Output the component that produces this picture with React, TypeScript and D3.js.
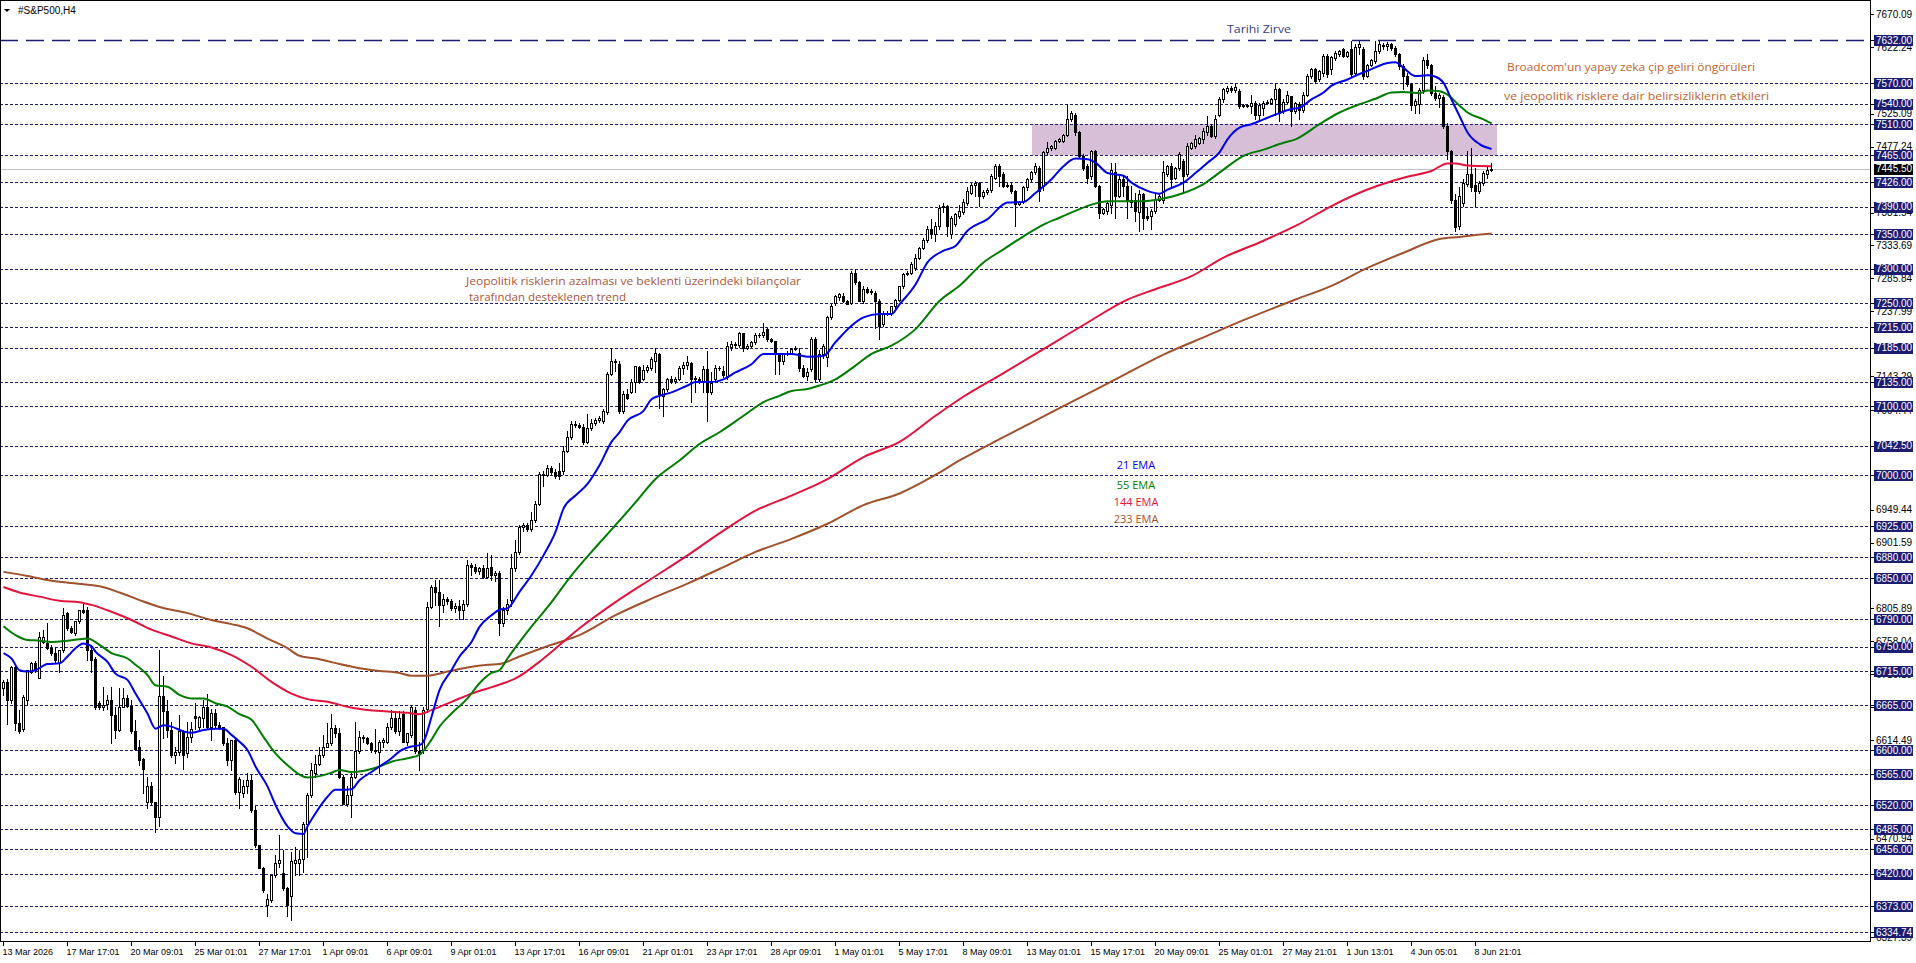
import React from 'react';
import * as d3 from 'd3';

const W = 1916;
const H = 963;
const PLOT_R = 1870;
const PLOT_B = 941;

// [open, high, low, close] per H4 bar
const candles: [number, number, number, number][] = [
[6690,6702,6680,6699],[6699,6703,6638,6672],[6672,6722,6668,6721],[6721,6724,6629,6639],[6639,6658,6624,6627],
[6630,6680,6628,6677],[6673,6716,6665,6716],[6714,6728,6712,6726],[6726,6729,6713,6716],[6704,6772,6704,6765],
[6757,6775,6755,6765],[6755,6784,6747,6748],[6748,6752,6738,6741],[6741,6750,6726,6731],[6726,6745,6714,6745],
[6745,6806,6742,6796],[6799,6801,6775,6777],[6777,6780,6770,6771],[6770,6788,6767,6787],[6787,6804,6784,6804],
[6803,6813,6799,6801],[6803,6808,6731,6745],[6745,6748,6714,6731],[6733,6735,6660,6663],[6668,6671,6660,6663],
[6663,6692,6658,6666],[6667,6680,6660,6672],[6672,6692,6610,6651],[6651,6663,6617,6629],[6629,6690,6628,6663],
[6663,6690,6662,6675],[6675,6680,6662,6664],[6664,6673,6624,6627],[6627,6644,6600,6602],[6604,6614,6578,6586],
[6587,6588,6537,6573],[6525,6561,6515,6547],[6547,6554,6522,6525],[6524,6525,6481,6503],[6503,6745,6489,6678],
[6678,6707,6617,6656],[6656,6673,6619,6629],[6629,6640,6590,6593],[6593,6605,6581,6597],[6597,6651,6593,6627],
[6627,6629,6573,6593],[6595,6641,6590,6619],[6619,6640,6612,6630],[6650,6668,6631,6646],[6634,6650,6630,6648],
[6646,6673,6634,6663],[6663,6682,6631,6634],[6634,6660,6615,6654],[6654,6660,6634,6637],[6637,6641,6630,6633],
[6633,6634,6607,6610],[6610,6617,6578,6585],[6585,6614,6571,6614],[6614,6617,6536,6539],[6539,6561,6515,6558],
[6537,6556,6532,6547],[6547,6566,6537,6556],[6556,6564,6510,6513],[6513,6518,6459,6462],[6462,6462,6428,6428],
[6428,6430,6394,6396],[6375,6391,6358,6383],[6382,6418,6379,6418],[6418,6447,6416,6435],[6435,6476,6430,6440],
[6421,6455,6396,6399],[6399,6401,6358,6375],[6387,6452,6353,6438],[6435,6459,6418,6440],[6436,6455,6418,6442],
[6442,6496,6423,6493],[6493,6537,6445,6535],[6535,6581,6532,6571],[6566,6593,6561,6580],[6580,6605,6578,6593],
[6593,6622,6590,6605],[6605,6639,6605,6610],[6610,6652,6607,6632],[6632,6636,6619,6625],[6625,6632,6559,6561],
[6561,6564,6522,6522],[6522,6547,6518,6534],[6534,6566,6503,6561],[6561,6641,6559,6598],[6598,6627,6595,6619],
[6619,6622,6612,6617],[6617,6619,6608,6610],[6610,6612,6597,6600],[6600,6631,6595,6599],[6597,6614,6566,6612],
[6612,6618,6605,6614],[6612,6639,6610,6634],[6634,6658,6631,6646],[6646,6656,6624,6627],[6627,6656,6622,6646],
[6653,6656,6611,6612],[6612,6625,6607,6624],[6622,6665,6619,6663],[6658,6663,6595,6598],[6598,6612,6571,6594],
[6600,6663,6596,6658],[6660,6815,6655,6808],[6808,6840,6806,6837],[6837,6847,6811,6830],[6830,6847,6781,6811],
[6811,6827,6801,6820],[6820,6823,6812,6817],[6817,6820,6803,6806],[6806,6814,6800,6810],[6810,6818,6791,6803],
[6803,6818,6790,6813],[6813,6876,6810,6869],[6869,6872,6855,6866],[6866,6870,6858,6860],[6860,6866,6856,6864],
[6864,6869,6850,6852],[6852,6886,6850,6864],[6866,6883,6847,6854],[6854,6861,6846,6857],[6857,6860,6767,6785],
[6785,6808,6780,6803],[6803,6820,6798,6813],[6818,6885,6810,6864],[6864,6906,6860,6888],[6888,6927,6885,6924],
[6924,6930,6918,6927],[6927,6930,6918,6921],[6921,6946,6919,6934],[6934,6962,6931,6958],[6958,7004,6956,7002],
[7002,7006,6984,7000],[7000,7014,6998,7010],[7010,7013,7002,7004],[7004,7008,6996,6999],[7006,7018,6994,6999],
[7005,7042,7002,7035],[7035,7064,7033,7055],[7055,7079,7052,7074],[7074,7079,7070,7072],[7072,7076,7068,7070],
[7070,7074,7045,7048],[7048,7088,7046,7068],[7068,7082,7066,7076],[7076,7083,7073,7080],[7080,7086,7077,7083],
[7079,7096,7076,7093],[7091,7149,7089,7147],[7147,7185,7145,7166],[7166,7168,7151,7164],[7162,7165,7090,7093],
[7093,7122,7090,7118],[7118,7125,7110,7112],[7120,7140,7119,7135],[7135,7159,7120,7159],[7157,7158,7133,7135],
[7140,7160,7138,7152],[7152,7160,7150,7157],[7156,7171,7153,7168],[7166,7184,7149,7178],[7176,7178,7098,7118],
[7115,7127,7086,7125],[7125,7141,7122,7140],[7140,7144,7134,7137],[7137,7142,7133,7140],[7140,7158,7138,7156],
[7156,7164,7147,7160],[7160,7173,7154,7164],[7163,7164,7106,7140],[7140,7144,7120,7141],[7140,7142,7134,7136],
[7136,7159,7120,7154],[7154,7180,7079,7120],[7120,7149,7118,7134],[7140,7160,7137,7156],[7156,7158,7152,7155],
[7151,7159,7142,7145],[7142,7193,7140,7188],[7186,7195,7182,7190],[7190,7193,7186,7189],[7189,7208,7186,7206],
[7206,7207,7180,7185],[7185,7190,7183,7188],[7188,7195,7186,7193],[7193,7207,7191,7204],[7204,7207,7201,7203],
[7203,7221,7201,7208],[7212,7214,7195,7197],[7197,7199,7193,7195],[7195,7195,7147,7176],[7176,7178,7147,7166],
[7166,7178,7161,7176],[7176,7180,7174,7178],[7178,7185,7176,7183],[7183,7187,7181,7185],[7178,7185,7151,7156],
[7156,7160,7142,7144],[7144,7156,7138,7150],[7154,7200,7151,7197],[7197,7200,7137,7140],[7140,7181,7137,7176],
[7176,7190,7170,7187],[7171,7231,7159,7229],[7229,7248,7226,7246],[7250,7261,7247,7260],[7258,7265,7255,7263],
[7260,7264,7251,7253],[7253,7254,7248,7249],[7250,7297,7248,7294],[7294,7300,7277,7280],[7280,7282,7253,7253],
[7253,7275,7250,7270],[7270,7273,7264,7266],[7266,7270,7263,7268],[7265,7268,7214,7253],[7253,7256,7197,7217],
[7220,7238,7217,7236],[7236,7238,7232,7235],[7235,7246,7233,7245],[7245,7256,7243,7255],[7255,7275,7253,7275],
[7274,7293,7272,7292],[7292,7296,7290,7294],[7294,7309,7292,7306],[7301,7321,7298,7316],[7316,7331,7314,7330],
[7330,7345,7328,7342],[7342,7362,7338,7358],[7358,7372,7345,7350],[7350,7368,7340,7362],[7362,7392,7358,7388],
[7390,7396,7383,7391],[7391,7392,7347,7362],[7350,7376,7345,7374],[7365,7381,7362,7379],[7377,7393,7374,7384],
[7382,7401,7379,7397],[7396,7418,7393,7413],[7410,7425,7408,7422],[7422,7427,7405,7425],[7424,7426,7391,7406],
[7406,7414,7403,7412],[7412,7417,7409,7415],[7415,7437,7412,7434],[7432,7452,7430,7449],[7449,7452,7420,7435],
[7437,7440,7418,7420],[7420,7424,7419,7422],[7422,7426,7410,7413],[7413,7415,7362,7394],[7394,7399,7393,7397],
[7398,7420,7396,7418],[7418,7432,7415,7430],[7430,7442,7427,7440],[7440,7454,7437,7449],[7447,7449,7398,7413],
[7420,7471,7415,7469],[7469,7484,7466,7476],[7476,7480,7473,7478],[7476,7487,7474,7486],[7486,7490,7484,7488],
[7486,7496,7484,7495],[7495,7539,7493,7517],[7517,7529,7515,7527],[7524,7527,7495,7498],[7498,7500,7461,7464],
[7464,7466,7444,7447],[7449,7452,7425,7432],[7435,7473,7430,7471],[7471,7473,7418,7420],[7420,7422,7374,7381],
[7381,7388,7380,7386],[7384,7398,7379,7396],[7393,7454,7381,7444],[7440,7454,7374,7406],[7406,7435,7404,7430],
[7430,7435,7405,7420],[7420,7434,7374,7400],[7400,7420,7391,7397],[7400,7410,7369,7384],[7382,7415,7355,7408],
[7408,7410,7357,7374],[7376,7388,7370,7374],[7377,7386,7357,7384],[7384,7410,7381,7401],[7400,7408,7398,7406],
[7400,7456,7396,7440],[7437,7451,7435,7449],[7449,7454,7420,7430],[7432,7448,7430,7447],[7447,7469,7444,7466],
[7456,7459,7410,7435],[7437,7483,7435,7478],[7476,7484,7474,7483],[7478,7495,7476,7488],[7483,7491,7481,7490],
[7488,7505,7483,7500],[7498,7522,7495,7507],[7507,7510,7492,7493],[7493,7524,7490,7517],[7524,7549,7522,7547],
[7546,7563,7543,7561],[7558,7565,7556,7563],[7563,7566,7557,7560],[7560,7570,7557,7564],[7558,7561,7534,7537],
[7537,7540,7535,7538],[7538,7540,7535,7536],[7536,7553,7527,7541],[7541,7544,7517,7524],[7524,7541,7517,7538],
[7534,7544,7524,7541],[7541,7545,7540,7543],[7541,7548,7539,7546],[7546,7570,7524,7561],[7561,7563,7515,7527],
[7529,7546,7526,7543],[7543,7558,7541,7553],[7551,7551,7507,7529],[7529,7542,7526,7541],[7539,7542,7517,7531],
[7531,7557,7528,7553],[7553,7583,7551,7580],[7580,7592,7577,7590],[7590,7592,7570,7573],[7575,7589,7573,7587],
[7585,7612,7580,7609],[7609,7612,7578,7583],[7590,7609,7583,7607],[7606,7616,7604,7614],[7612,7618,7609,7616],
[7619,7621,7607,7609],[7609,7617,7607,7615],[7619,7631,7580,7583],[7585,7626,7582,7622],[7622,7631,7612,7626],
[7620,7622,7575,7580],[7580,7597,7578,7596],[7596,7605,7594,7603],[7602,7631,7599,7616],[7616,7631,7613,7626],
[7625,7628,7620,7623],[7623,7629,7618,7626],[7626,7628,7618,7621],[7621,7624,7609,7612],[7612,7614,7590,7595],
[7595,7597,7561,7580],[7580,7585,7565,7568],[7568,7570,7531,7538],[7538,7546,7526,7544],[7540,7563,7527,7560],
[7560,7607,7556,7603],[7603,7612,7592,7596],[7596,7598,7553,7556],[7556,7566,7545,7548],[7548,7556,7535,7552],
[7550,7552,7505,7507],[7507,7512,7459,7471],[7471,7473,7395,7400],[7400,7408,7355,7360],[7362,7418,7358,7406],
[7395,7430,7391,7425],[7423,7471,7420,7437],[7437,7476,7413,7418],[7422,7447,7391,7413],[7413,7427,7410,7425],
[7425,7442,7422,7439],[7437,7449,7432,7444],[7444,7454,7442,7445.5],
];

// EMA readings: [bar index, value]
const ema21: [number, number][] = [
[0,6741],[2,6733],[4,6716],[6,6714],[8,6716],[11,6725],[14,6726],[16,6736],[18,6748],[20,6755],[22,6751],[23,6743],
[26,6728],[28,6711],[31,6702],[33,6682],[36,6653],[38,6631],[40,6636],[42,6634],[45,6627],[47,6625],[50,6629],[53,6631],
[55,6631],[57,6622],[59,6612],[61,6600],[63,6576],[66,6547],[68,6520],[71,6489],[73,6479],[75,6478],[76,6489],[78,6508],
[81,6532],[83,6542],[84,6542],[87,6543],[89,6556],[92,6568],[94,6576],[97,6588],[99,6598],[102,6605],[104,6607],[105,6612],
[107,6648],[109,6687],[112,6716],[114,6736],[117,6757],[119,6779],[122,6796],[124,6804],[126,6806],[129,6830],[132,6854],
[135,6883],[138,6917],[140,6951],[143,6970],[146,6987],[149,7014],[152,7048],[154,7062],[156,7079],[160,7093],[162,7110],
[164,7115],[167,7120],[171,7130],[173,7135],[177,7135],[180,7139],[183,7149],[187,7161],[190,7176],[193,7176],[197,7176],
[201,7172],[205,7173],[208,7193],[212,7217],[215,7229],[219,7234],[222,7234],[224,7248],[228,7277],[231,7309],[235,7326],
[238,7333],[241,7355],[246,7372],[251,7396],[255,7397],[258,7410],[262,7430],[265,7449],[268,7460],[271,7459],[273,7454],
[276,7439],[280,7435],[282,7425],[286,7413],[289,7409],[291,7415],[295,7425],[298,7439],[301,7454],[304,7469],[306,7488],
[309,7505],[312,7510],[315,7517],[318,7524],[322,7532],[324,7534],[327,7546],[330,7556],[332,7566],[336,7575],[339,7583],
[342,7590],[346,7599],[348,7600],[350,7592],[353,7580],[356,7581],[358,7579],[360,7570],[362,7546],[364,7522],[366,7498],
[369,7481],[372,7474],
];
const ema55: [number, number][] = [
[0,6780],[3,6767],[6,6760],[9,6759],[12,6757],[16,6759],[19,6761],[21,6762],[24,6753],[27,6741],[31,6733],[33,6724],
[36,6709],[38,6694],[41,6692],[44,6680],[47,6675],[50,6675],[53,6668],[56,6663],[59,6652],[62,6644],[65,6619],[68,6595],
[72,6573],[74,6564],[76,6560],[79,6562],[82,6567],[84,6571],[87,6568],[91,6571],[94,6576],[97,6583],[101,6588],[104,6593],
[107,6615],[109,6634],[112,6653],[116,6675],[119,6697],[122,6712],[124,6716],[126,6733],[131,6772],[137,6815],[142,6854],
[147,6888],[153,6927],[158,6960],[163,6994],[169,7021],[174,7045],[179,7062],[185,7086],[190,7106],[194,7115],[197,7122],
[201,7125],[204,7130],[208,7139],[213,7159],[217,7176],[222,7188],[228,7212],[234,7253],[239,7275],[245,7309],[250,7328],
[255,7347],[260,7364],[264,7374],[268,7384],[272,7393],[276,7398],[280,7398],[285,7398],[289,7401],[295,7410],[300,7423],
[305,7444],[310,7464],[315,7473],[320,7483],[323,7488],[329,7510],[334,7527],[339,7539],[343,7547],[347,7556],[350,7557],
[354,7555],[356,7559],[359,7558],[361,7553],[364,7537],[366,7527],[370,7517],[372,7511],
];
const ema144: [number, number][] = [
[0,6837],[4,6829],[9,6823],[14,6817],[19,6815],[22,6811],[27,6801],[32,6789],[37,6775],[42,6765],[47,6755],[52,6749],
[57,6738],[62,6721],[67,6699],[72,6682],[76,6674],[81,6670],[86,6663],[91,6658],[96,6656],[101,6654],[104,6652],[107,6658],
[112,6670],[117,6682],[124,6695],[128,6704],[135,6733],[144,6777],[153,6815],[162,6849],[171,6883],[180,6919],[188,6948],
[197,6970],[206,6994],[215,7026],[224,7048],[233,7086],[239,7110],[250,7148],[260,7183],[270,7218],[281,7255],[288,7270],
[297,7289],[305,7316],[314,7338],[323,7362],[332,7391],[341,7415],[347,7427],[352,7435],[357,7442],[361,7453],[363,7453],
[366,7450],[372,7449],
];
const ema233: [number, number][] = [
[0,6859],[6,6853],[12,6846],[20,6841],[24,6838],[29,6829],[34,6818],[39,6808],[46,6799],[52,6789],[57,6783],[61,6777],
[66,6762],[71,6748],[74,6737],[79,6732],[84,6725],[89,6719],[94,6715],[99,6712],[102,6708],[106,6708],[111,6714],[116,6720],
[121,6724],[124,6725],[129,6736],[137,6753],[144,6767],[153,6796],[162,6820],[171,6842],[180,6866],[188,6888],[197,6907],
[206,6929],[215,6956],[224,6973],[233,7000],[239,7021],[250,7055],[260,7085],[270,7115],[280,7145],[290,7175],[300,7200],
[310,7225],[323,7255],[332,7275],[341,7301],[350,7323],[359,7343],[364,7346],[370,7350],[372,7351],
];

const levels = [7570,7540,7510,7465,7426,7390,7350,7300,7250,7215,7185,7135,7100,7042.5,7000,6925,6880,6850,6790,6750,6715,6665,6600,6565,6520,6485,6456,6420,6373,6334.74];
const athLevel = 7632;
const bidPrice = 7445.5;
const autoTicks = [7670.09,7622.24,7525.09,7477.24,7381.54,7333.69,7285.84,7237.99,7143.29,7094.44,6949.44,6901.59,6805.89,6758.04,6710.19,6662.34,6614.49,6470.94,6327.39];
const timeLabels = ['13 Mar 2026','17 Mar 17:01','20 Mar 09:01','25 Mar 01:01','27 Mar 17:01','1 Apr 09:01','6 Apr 09:01','9 Apr 01:01','13 Apr 17:01','16 Apr 09:01','21 Apr 01:01','23 Apr 17:01','28 Apr 09:01','1 May 01:01','5 May 17:01','8 May 09:01','13 May 01:01','15 May 17:01','20 May 09:01','25 May 01:01','27 May 21:01','1 Jun 13:01','4 Jun 05:01','8 Jun 21:01'];
const timeLabelBars = [0,16,32,48,64,80,96,112,128,144,160,176,192,208,224,240,256,272,288,304,320,336,352,368];
const zonePrices = [7465, 7510];
const zoneBars = [257.1, 373.4];

const emaSeries = [
  { name: '233 EMA', pts: ema233, color: '#a0522d' },
  { name: '144 EMA', pts: ema144, color: '#e0143c' },
  { name: '55 EMA', pts: ema55, color: '#007c00' },
  { name: '21 EMA', pts: ema21, color: '#0000e6' },
];
const legendOrder = ['21 EMA', '55 EMA', '144 EMA', '233 EMA'];

const NAVY = '#1c1c70';
const AXIS_FONT = "'Liberation Sans', Arial, sans-serif";
const NOTE_FONT = "'Open Sans', 'DejaVu Sans', sans-serif";

export default function App() {
  const x = d3.scaleLinear().domain([0, 372]).range([3.5, 1491.5]);
  const y = d3.scaleLinear().domain([6334.74, 7632]).range([932.4, 40.3]);
  const py = (p: number) => Math.round(y(p)) + 0.5;

  const line = d3.line<[number, number]>()
    .x(d => x(d[0]))
    .y(d => y(d[1]))
    .curve(d3.curveMonotoneX);

  return (
    <svg width={W} height={H} style={{ position: 'fixed', left: 0, top: 0, background: '#fff' }}
      xmlns="http://www.w3.org/2000/svg">
      <rect x={0} y={0} width={W} height={H} fill="#fff" />
      <defs>
        <clipPath id="plot"><rect x={1} y={1} width={PLOT_R - 1} height={PLOT_B - 1} /></clipPath>
      </defs>

      <g clipPath="url(#plot)">
        <rect x={x(zoneBars[0])} y={y(zonePrices[1])} width={x(zoneBars[1]) - x(zoneBars[0])}
          height={y(zonePrices[0]) - y(zonePrices[1])} fill="#d8bfd8" />

        {levels.map(l => (
          <line key={l} x1={0} x2={PLOT_R} y1={py(l)} y2={py(l)} stroke={NAVY} strokeWidth={1} strokeDasharray="3,2" />
        ))}
        <line x1={0} x2={PLOT_R} y1={py(athLevel)} y2={py(athLevel)} stroke={NAVY} strokeWidth={1.5} strokeDasharray="18,8" />
        <line x1={0} x2={PLOT_R} y1={py(bidPrice)} y2={py(bidPrice)} stroke="#c0c0c0" strokeWidth={1} />

        {candles.map((c, i) => {
          const [o, h, l, cl] = c;
          const cx = x(i);
          const top = Math.round(y(Math.max(o, cl)));
          const bot = Math.round(y(Math.min(o, cl)));
          const bull = cl >= o;
          return (
            <g key={i}>
              <line x1={cx} x2={cx} y1={Math.round(y(h))} y2={Math.round(y(l)) + 1} stroke="#000" strokeWidth={1} />
              {bot - top < 1 ? (
                <line x1={cx - 1.5} x2={cx + 1.5} y1={top + 0.5} y2={top + 0.5} stroke="#000" strokeWidth={1} />
              ) : (
                <rect x={cx - 1} y={top + 0.5} width={2} height={bot - top} fill={bull ? '#fff' : '#000'} stroke="#000" strokeWidth={1} />
              )}
            </g>
          );
        })}

        {emaSeries.map(s => (
          <path key={s.name} d={line(s.pts) || ''} fill="none" stroke={s.color} strokeWidth={2} strokeLinejoin="round" />
        ))}
      </g>

      <text x={1227} y={33} fontFamily={NOTE_FONT} fontSize={11} fill="#3a3a8a" textLength={64} lengthAdjust="spacingAndGlyphs">Tarihi Zirve</text>
      <text x={1507} y={71} fontFamily={NOTE_FONT} fontSize={11.5} fill="#c0622f" textLength={248} lengthAdjust="spacingAndGlyphs">Broadcom'un yapay zeka çip geliri öngörüleri</text>
      <text x={1504} y={100} fontFamily={NOTE_FONT} fontSize={11.5} fill="#c0622f" textLength={265} lengthAdjust="spacingAndGlyphs">ve jeopolitik risklere dair belirsizliklerin etkileri</text>
      <text x={466} y={285} fontFamily={NOTE_FONT} fontSize={11.5} fill="#b0553a" textLength={335} lengthAdjust="spacingAndGlyphs">Jeopolitik risklerin azalması ve beklenti üzerindeki bilançolar</text>
      <text x={469} y={301} fontFamily={NOTE_FONT} fontSize={11.5} fill="#b0553a" textLength={157} lengthAdjust="spacingAndGlyphs">tarafından desteklenen trend</text>

      {legendOrder.map((n, k) => {
        const s = emaSeries.find(e => e.name === n)!;
        const ys = [469, 489, 506, 523];
        return (
          <text key={n} x={1136} y={ys[k]} textAnchor="middle" fontFamily={NOTE_FONT} fontSize={11} fill={s.color}>{n}</text>
        );
      })}

      <rect x={0.5} y={0.5} width={PLOT_R} height={PLOT_B} fill="none" stroke="#000" strokeWidth={1} />

      <path d="M4,9 L10,9 L7,12 Z" fill="#000" />
      <text x={18} y={14} fontFamily={AXIS_FONT} fontSize={10} fill="#000">#S&amp;P500,H4</text>

      {autoTicks.map(t => (
        <g key={'a' + t}>
          <line x1={PLOT_R} x2={PLOT_R + 4} y1={py(t)} y2={py(t)} stroke="#000" />
          <text x={1876} y={y(t) + 3.6} fontFamily={AXIS_FONT} fontSize={10} fill="#000">{t.toFixed(2)}</text>
        </g>
      ))}
      {[athLevel, ...levels].map(l => (
        <g key={'l' + l}>
          <line x1={PLOT_R} x2={PLOT_R + 4} y1={py(l)} y2={py(l)} stroke="#000" />
          <rect x={1874} y={Math.round(y(l)) - 5} width={39} height={11} fill={NAVY} />
          <text x={1876} y={y(l) + 3.6} fontFamily={AXIS_FONT} fontSize={10} fill="#fff">{l.toFixed(2)}</text>
        </g>
      ))}
      <g>
        <rect x={1874} y={Math.round(y(bidPrice)) - 5} width={39} height={11} fill="#000" />
        <text x={1876} y={y(bidPrice) + 3.6} fontFamily={AXIS_FONT} fontSize={10} fill="#fff">{bidPrice.toFixed(2)}</text>
      </g>

      {timeLabels.map((t, k) => {
        const tx = x(timeLabelBars[k]);
        return (
          <g key={t}>
            <line x1={tx} x2={tx} y1={PLOT_B} y2={PLOT_B + 5} stroke="#000" />
            <text x={tx - 1} y={955} fontFamily={AXIS_FONT} fontSize={9} fill="#000">{t}</text>
          </g>
        );
      })}
    </svg>
  );
}
